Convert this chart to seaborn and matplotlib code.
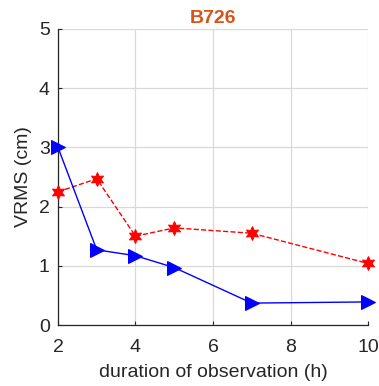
import matplotlib
matplotlib.use("Agg")
import matplotlib.pyplot as plt
import seaborn as sns
import pandas as pd

hours = [2, 3, 4, 5, 7, 10]
vrms_blue = [3.00, 1.27, 1.17, 0.97, 0.37, 0.39]
vrms_red = [2.25, 2.47, 1.50, 1.64, 1.55, 1.04]
x_ticks = [2, 4, 6, 8, 10]
y_ticks = [0, 1, 2, 3, 4, 5]
title = "B726"

sns.set_theme(style="whitegrid")
plt.rcParams["font.family"] = ["Liberation Sans", "DejaVu Sans"]

df = pd.DataFrame({"hours": hours, "blue": vrms_blue, "red": vrms_red})

fig = plt.figure(figsize=(3.79, 3.86), dpi=100)
ax = fig.add_axes([0.153, 0.158, 0.818, 0.767])

sns.lineplot(data=df, x="hours", y="red", ax=ax, color="red", linestyle="--",
             linewidth=1, marker=(6, 1, 0), markersize=10, markeredgecolor="red",
             clip_on=False, zorder=3)
sns.lineplot(data=df, x="hours", y="blue", ax=ax, color="blue", linestyle="-",
             linewidth=1, marker=">", markersize=10, markeredgecolor="blue",
             clip_on=False, zorder=4)

ax.set_xlim(2, 10)
ax.set_ylim(0, 5)
ax.set_xticks(x_ticks)
ax.set_yticks(y_ticks)
ax.tick_params(labelsize=14, colors="#262626", direction="in", length=3, width=0.8,
               left=True, bottom=True)
ax.tick_params(axis="x", pad=10)
ax.tick_params(axis="y", pad=6)
ax.grid(True, color="#d9d9d9", linewidth=0.9)
ax.set_facecolor("white")
for side in ["top", "right"]:
    ax.spines[side].set_visible(False)
for side in ["left", "bottom"]:
    ax.spines[side].set_visible(True)
    ax.spines[side].set_color("#262626")
    ax.spines[side].set_linewidth(0.9)

ax.set_xlabel("duration of observation (h)", fontsize=14, color="#262626", labelpad=6)
ax.set_ylabel("VRMS (cm)", fontsize=14, color="#262626", labelpad=5)
ax.set_title(title, fontsize=14, fontweight="bold", color="#D95319", pad=4)

fig.savefig("out.png", dpi=100)
